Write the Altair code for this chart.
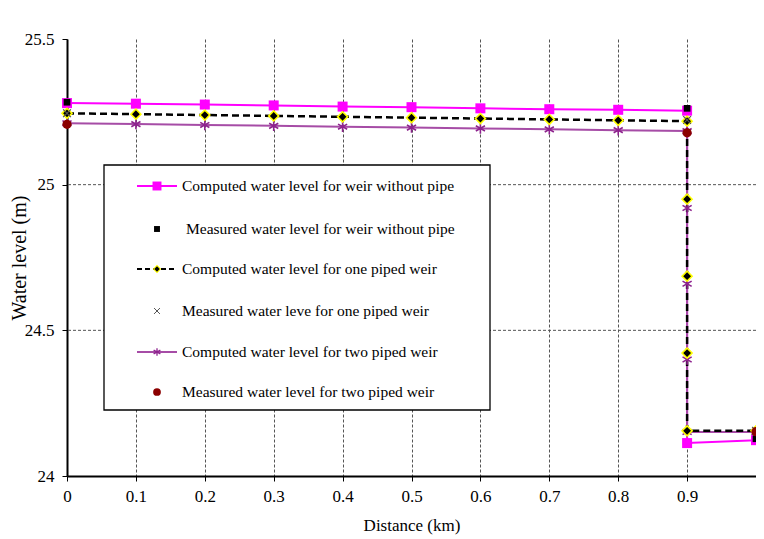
import altair as alt
import pandas as pd

# ---------------- data ----------------
comp_none_x = [0.0, 0.1, 0.2, 0.3, 0.4, 0.5, 0.6, 0.7, 0.8, 0.9, 0.9, 1.0]
comp_none_y = [25.280, 25.278, 25.275, 25.272, 25.268, 25.266, 25.262, 25.259, 25.257, 25.254, 24.113, 24.123]

comp_one_x = [0.0, 0.1, 0.2, 0.3, 0.4, 0.5, 0.6, 0.7, 0.8, 0.9, 0.9, 0.9, 0.9, 0.9, 1.0]
comp_one_y = [25.245, 25.242, 25.239, 25.236, 25.233, 25.230, 25.227, 25.224, 25.221, 25.218,
              24.950, 24.686, 24.422, 24.155, 24.155]

comp_two_x = [0.0, 0.1, 0.2, 0.3, 0.4, 0.5, 0.6, 0.7, 0.8, 0.9, 0.9, 0.9, 0.9, 0.9, 1.0]
comp_two_y = [25.211, 25.208, 25.205, 25.202, 25.199, 25.196, 25.193, 25.190, 25.187, 25.184,
              24.920, 24.660, 24.400, 24.151, 24.151]

meas_x = [0.0, 0.9, 1.0]
meas_none_y = [25.283, 25.262, 24.128]
meas_one_y = [25.245, 25.222, 24.155]
meas_two_y = [25.207, 25.178, 24.152]

x_ticks = [0.0, 0.1, 0.2, 0.3, 0.4, 0.5, 0.6, 0.7, 0.8, 0.9, 1.0]
y_ticks = [24.0, 24.5, 25.0, 25.5]
y_grid = [24.5, 25.0]

legend_labels = [
    "Computed water level for weir without pipe",
    "Measured water level for weir without pipe",
    "Computed water level for one piped weir",
    "Measured water leve for one piped weir",
    "Computed water level for two piped weir",
    "Measured water level for two piped weir",
]

# ---------------- styles ----------------
FONT = "Liberation Serif"
MAGENTA = "#FF00FF"
PURPLE_LINE = "#A64CA6"
PURPLE_MARK = "#8E238E"
DARKRED = "#8B0000"
GREY = "#555555"
STAR = "M0,-1L0,1M-0.87,-0.5L0.87,0.5M-0.87,0.5L0.87,-0.5"
XSHAPE = "M-1,-1L1,1M-1,1L1,-1"


def frame(xs, ys):
    return pd.DataFrame({"d": xs, "wl": ys, "i": list(range(len(xs)))})


x_scale = alt.Scale(domain=[0, 1], nice=False, zero=False)
y_scale = alt.Scale(domain=[24, 25.5], nice=False, zero=False)

x_axis = alt.Axis(
    values=x_ticks, format=".1~f", title="Distance (km)",
    labelExpr="datum.value >= 1 ? '' : datum.label", labelFlush=False,
    grid=True, gridDash=[3, 2], gridColor=GREY, gridWidth=1,
    domainColor="black", domainWidth=2, tickColor="black", tickSize=5,
    labelFont=FONT, labelFontSize=17, labelColor="black", labelPadding=7,
    titleFont=FONT, titleFontSize=17, titleFontWeight="normal", titleColor="black",
    titlePadding=13,
)
y_axis = alt.Axis(
    values=y_ticks, format="~g", title="Water level (m)", grid=False, labelFlush=False,
    domainColor="black", domainWidth=2, tickColor="black", tickSize=5,
    labelFont=FONT, labelFontSize=17, labelColor="black", labelPadding=8,
    titleFont=FONT, titleFontSize=20, titleFontWeight="normal", titleColor="black",
    titleX=-38,
)


def xy():
    return dict(
        x=alt.X("d:Q", scale=x_scale, axis=x_axis),
        y=alt.Y("wl:Q", scale=y_scale, axis=y_axis),
    )


layers = []

df_none = frame(comp_none_x, comp_none_y)
df_one = frame(comp_one_x, comp_one_y)
df_two = frame(comp_two_x, comp_two_y)

# horizontal grid lines
layers.append(
    alt.Chart(pd.DataFrame({"wl": y_grid})).mark_rule(strokeDash=[3, 2], color=GREY, strokeWidth=1)
    .encode(y=alt.Y("wl:Q", scale=y_scale, axis=y_axis))
)

# lines
layers.append(alt.Chart(df_none).mark_line(color=MAGENTA, strokeWidth=2)
              .encode(order="i:Q", **xy()))
layers.append(alt.Chart(df_two).mark_line(color=PURPLE_LINE, strokeWidth=2)
              .encode(order="i:Q", **xy()))
layers.append(alt.Chart(df_one).mark_line(color="black", strokeWidth=2.5, strokeDash=[7, 4])
              .encode(order="i:Q", **xy()))

# computed markers
layers.append(alt.Chart(df_none).mark_point(shape="square", filled=True, color=MAGENTA, size=100, opacity=1)
              .encode(**xy()))
layers.append(alt.Chart(df_two).mark_point(shape=STAR, filled=False, color=PURPLE_MARK, size=110,
                                           strokeWidth=1.6, opacity=1)
              .encode(**xy()))
layers.append(alt.Chart(df_one).mark_point(shape="diamond", filled=True, color="#FFFF00", size=150, opacity=1)
              .encode(**xy()))
layers.append(alt.Chart(df_one).mark_point(shape="diamond", filled=True, color="black", size=60, opacity=1)
              .encode(**xy()))

# measured markers
layers.append(alt.Chart(frame(meas_x, meas_one_y)).mark_point(shape=XSHAPE, filled=False, color=GREY,
                                                               size=60, strokeWidth=1.2, opacity=1)
              .encode(**xy()))
layers.append(alt.Chart(frame(meas_x, meas_none_y)).mark_point(shape="square", filled=True, color="black",
                                                                size=45, opacity=1)
              .encode(**xy()))
layers.append(alt.Chart(frame(meas_x, meas_two_y)).mark_point(shape="circle", filled=True, color=DARKRED,
                                                               size=85, opacity=1)
              .encode(**xy()))

# ---------------- legend (drawn manually) ----------------
one = alt.Data(values=[{"k": 1}])
BOX = (37, 423, 126, 371)
ROWS = [147, 190, 230, 272, 313, 353]
LX0, LX1, LM, LT = 70, 110, 90, 115

layers.append(alt.Chart(one).mark_rect(fill="white", stroke="black", strokeWidth=1.3)
              .encode(x=alt.value(BOX[0]), x2=alt.value(BOX[1]), y=alt.value(BOX[2]), y2=alt.value(BOX[3])))


def lrule(row, **kw):
    return alt.Chart(one).mark_rule(**kw).encode(
        x=alt.value(LX0), x2=alt.value(LX1), y=alt.value(ROWS[row]))


def lpoint(row, **kw):
    return alt.Chart(one).mark_point(opacity=1, **kw).encode(
        x=alt.value(LM), y=alt.value(ROWS[row]))


layers += [
    lrule(0, color=MAGENTA, strokeWidth=2),
    lpoint(0, shape="square", filled=True, color=MAGENTA, size=80),
    lpoint(1, shape="square", filled=True, color="black", size=35),
    lrule(2, color="black", strokeWidth=2, strokeDash=[5, 3]),
    lpoint(2, shape="diamond", filled=True, color="#FFFF00", size=70),
    lpoint(2, shape="diamond", filled=True, color="black", size=30),
    lpoint(3, shape=XSHAPE, filled=False, color=GREY, size=35, strokeWidth=1),
    lrule(4, color=PURPLE_LINE, strokeWidth=2),
    lpoint(4, shape=STAR, filled=False, color=PURPLE_MARK, size=60, strokeWidth=1.3),
    lpoint(5, shape="circle", filled=True, color=DARKRED, size=60),
]

for r, lab in enumerate(legend_labels):
    tx = LT + 4 if r == 1 else LT
    layers.append(
        alt.Chart(one).mark_text(align="left", baseline="middle", font=FONT, fontSize=15.5, color="black")
        .encode(x=alt.value(tx), y=alt.value(ROWS[r]), text=alt.value(lab))
    )

chart = (
    alt.layer(*layers)
    .properties(width=689, height=437, autosize=alt.AutoSizeParams(type="none"),
                padding={"left": 59, "top": 31, "right": 0, "bottom": 62})
    .configure(background="white")
    .configure_view(stroke=None)
)

chart.save("out.html", embed_options={"renderer": "svg", "actions": False})
